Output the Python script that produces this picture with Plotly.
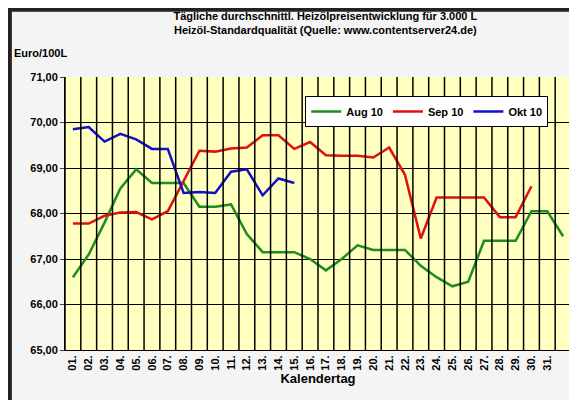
import plotly.graph_objects as go

days = [f"{d:02d}." for d in range(1, 32)]

aug_x = list(range(1, 33))
aug_10 = [66.6, 67.1, 67.8, 68.55, 68.97, 68.67, 68.67, 68.67, 68.15, 68.15, 68.2, 67.55,
          67.15, 67.15, 67.15, 67.0, 66.75, 67.0, 67.3, 67.2, 67.2, 67.2, 66.85, 66.6,
          66.4, 66.5, 67.4, 67.4, 67.4, 68.05, 68.05, 67.5]
sep_x = list(range(1, 31))
sep_10 = [67.78, 67.78, 67.95, 68.02, 68.03, 67.87, 68.05, 68.7, 69.38, 69.36, 69.43, 69.45,
          69.72, 69.72, 69.42, 69.57, 69.28, 69.27, 69.27, 69.23, 69.45, 68.85, 67.45, 68.35,
          68.35, 68.35, 68.35, 67.92, 67.92, 68.6]
okt_x = list(range(1, 16))
okt_10 = [69.85, 69.9, 69.58, 69.75, 69.63, 69.42, 69.42, 68.45, 68.47, 68.45, 68.92, 68.97,
          68.4, 68.77, 68.67]

y_ticks = [65, 66, 67, 68, 69, 70, 71]

fig = go.Figure()
for name, xs, ys, col in [("Aug 10", aug_x, aug_10, "#1E8C1E"),
                          ("Sep 10", sep_x, sep_10, "#E01010"),
                          ("Okt 10", okt_x, okt_10, "#1010C8")]:
    fig.add_trace(go.Scatter(x=xs, y=ys, name=name, mode="lines",
                             line=dict(color=col, width=2.5)))

fig.update_layout(
    width=577, height=400,
    margin=dict(l=57, r=14, t=69, b=58, autoexpand=False),
    paper_bgcolor="#F4F4F4", plot_bgcolor="#FFFFC0",
    font=dict(family="Arial, Liberation Sans", size=11, color="black"),
    title=dict(text="<b>Tägliche durchschnittl. Heizölpreisentwicklung für 3.000 L<br>"
                    "Heizöl-Standardqualität (Quelle: www.contentserver24.de)</b>",
               x=0.55, xanchor="center", y=0.97, yanchor="top", font=dict(size=11)),
    legend=dict(orientation="h", x=0.955, xanchor="right", y=0.93, yanchor="top",
                bgcolor="white", bordercolor="black", borderwidth=1, itemwidth=30,
                tracegroupgap=0, font=dict(size=11, weight="bold")),
    xaxis=dict(range=[0.5, 32.5], tickmode="array", tickvals=list(range(1, 32)),
               ticktext=days, tickangle=-90, showgrid=False, zeroline=False,
               linecolor="black", ticks="", tickfont=dict(weight="bold"), automargin=False,
               title=dict(text="<b>Kalendertag</b>", standoff=2)),
    yaxis=dict(range=[65, 71], tickvals=y_ticks, automargin=False,
               ticktext=[f"{v},00" for v in y_ticks], showgrid=True,
               gridcolor="black", gridwidth=1, zeroline=False, linecolor="black",
               ticks="outside", ticklen=4, tickfont=dict(weight="bold")),
    showlegend=True,
)
# vertical grid lines between days
for b in [i + 0.5 for i in range(0, 33)]:
    fig.add_vline(x=b, line=dict(color="black", width=1.5))
fig.add_annotation(text="<b>Euro/100L</b>", xref="paper", yref="paper", x=-0.105, y=1.06,
                   xanchor="left", yanchor="bottom", showarrow=False, font=dict(size=11))
fig.add_shape(type="rect", xref="paper", yref="paper", x0=-0.109, x1=1.024, y0=-0.205, y1=1.246,
              line=dict(color="#222", width=4), layer="below")

fig.write_html("out.html")
